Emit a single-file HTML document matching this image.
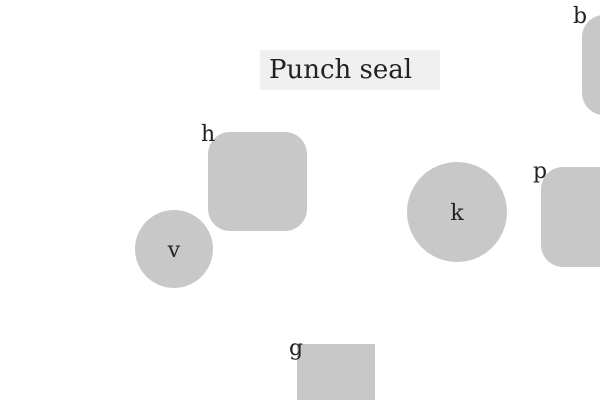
<!DOCTYPE html>
<html><head><meta charset="utf-8"><style>
html,body{margin:0;padding:0;background:#fff;width:600px;height:400px;overflow:hidden;}
svg{display:block;}
text{font-family:"DejaVu Serif","Liberation Serif",serif;fill:#222;}
</style></head><body>
<svg width="600" height="400" viewBox="0 0 600 400">
<g>
<rect x="260" y="50" width="180" height="40" fill="#f0f0f0"/>
<text x="269" y="78" font-size="26">Punch seal</text>
</g>
<g>
<rect x="582" y="15" width="100" height="100" rx="22" fill="#c8c8c8"/>
<text x="573" y="23" font-size="22">b</text>
</g>
<g>
<rect x="208" y="132" width="99" height="99" rx="22" fill="#c8c8c8"/>
<text x="201" y="141" font-size="22">h</text>
</g>
<g>
<circle cx="174" cy="249" r="39" fill="#c8c8c8"/>
<text x="174" y="257" font-size="22" text-anchor="middle">v</text>
</g>
<g>
<circle cx="457" cy="212" r="50" fill="#c8c8c8"/>
<text x="457" y="220" font-size="22" text-anchor="middle">k</text>
</g>
<g>
<rect x="541" y="167" width="100" height="100" rx="22" fill="#c8c8c8"/>
<text x="533" y="178" font-size="22">p</text>
</g>
<g>
<rect x="297" y="344" width="78" height="56" fill="#c8c8c8"/>
<text x="289" y="355" font-size="22">g</text>
</g>
</svg>
</body></html>
